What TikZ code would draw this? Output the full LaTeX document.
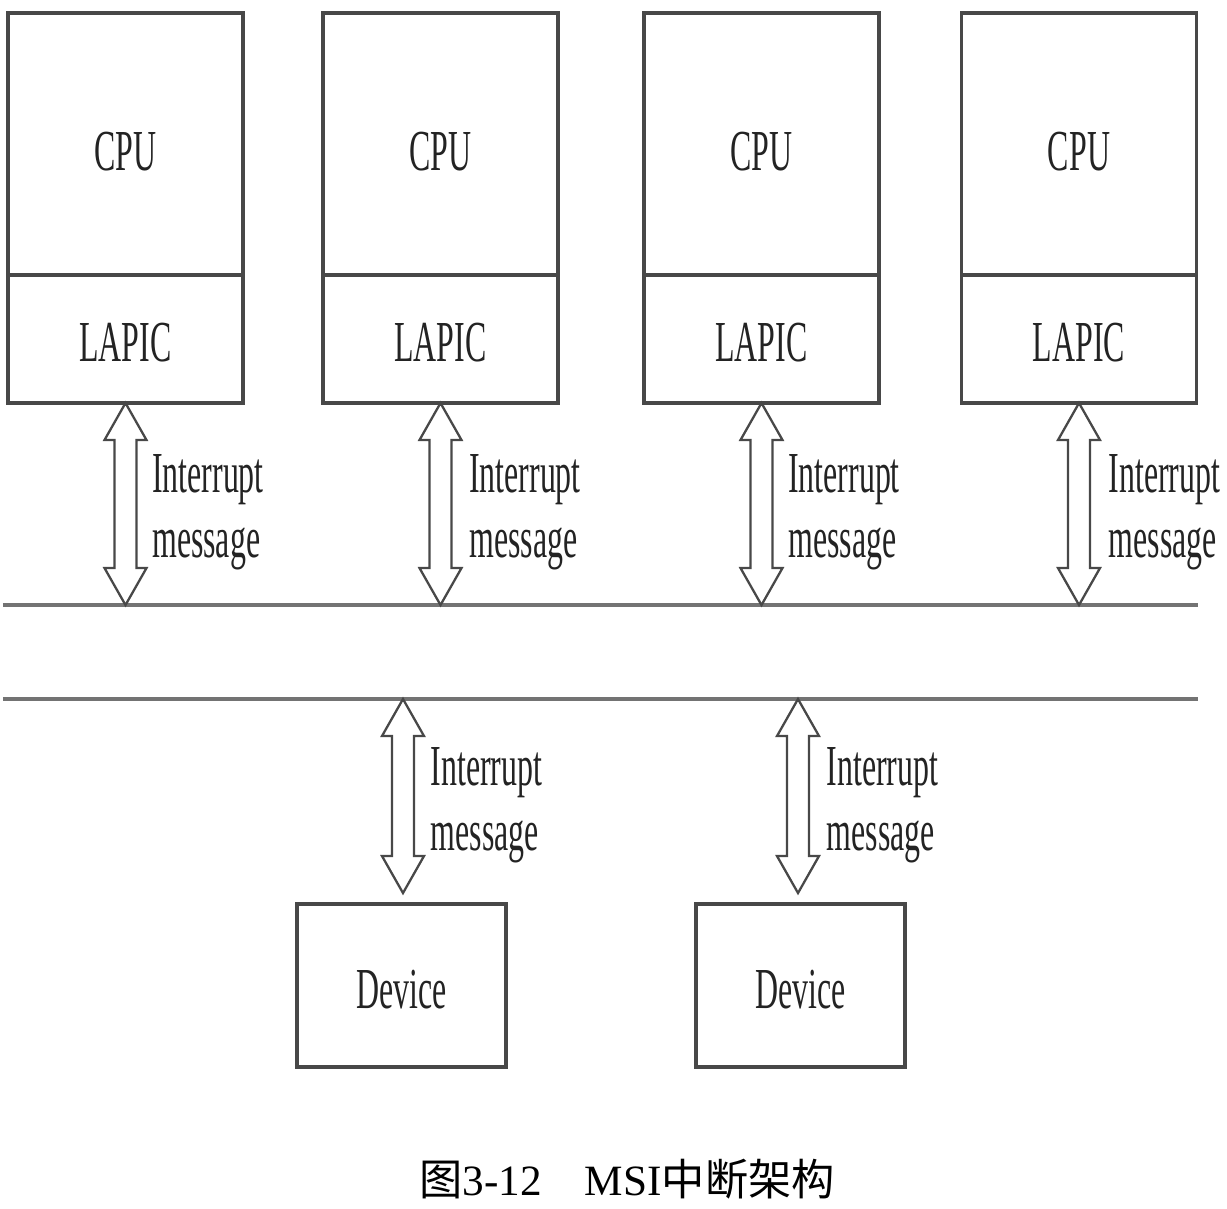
\documentclass[tikz,border=0pt]{standalone}
\usepackage{fontspec}
\setmainfont{Liberation Serif}
\newfontfamily\narrowrm{Liberation Serif}[FakeStretch=0.55]
\newfontfamily\cjk{Noto Sans CJK SC}
\usetikzlibrary{positioning,calc}
\definecolor{linea}{RGB}{72,72,72}
\definecolor{bus}{RGB}{115,115,115}
\definecolor{tinta}{RGB}{35,35,35}
\newcommand{\msgarrow}[2]{%
  \draw[msgar] (#1) -- ++(-0.21,-0.37) -- ++(0.10,0)
    -- ($(#2)+(-0.11,0.37)$) -- ++(-0.10,0) -- (#2)
    -- ++(0.21,0.37) -- ++(-0.10,0) -- ($(#1)+(0.11,-0.37)$)
    -- ++(0.10,0) -- cycle;}
\tikzset{
  caja/.style={draw=linea, line width=0.9pt, outer sep=0pt, inner sep=0pt, text=tinta,
    font=\narrowrm\fontsize{16.5}{18.5}\selectfont, text depth=0pt},
  cpu/.style={caja, minimum width=2.35cm, minimum height=2.62cm, text height=0.52cm},
  lapic/.style={caja, minimum width=2.35cm, minimum height=1.28cm, text height=0.44cm},
  disp/.style={caja, minimum width=2.09cm, minimum height=1.63cm, text height=0.46cm},
  busl/.style={draw=bus, line width=1.3pt},
  msgar/.style={draw=linea, line width=0.65pt, fill=white, line join=miter},
  et/.style={anchor=west, align=left, inner sep=0pt, text=tinta,
    font=\narrowrm\fontsize{16.5}{18.5}\selectfont},
  leyenda/.style={anchor=base, inner sep=0pt, text=black, font=\fontsize{12.3}{15}\selectfont},
}
\begin{document}
\begin{tikzpicture}[node distance=0pt]
  \useasboundingbox (0,0) rectangle (12.27,-12.08);
  % processors
  \node[cpu] (cpu1) at (1.255,-1.44) {CPU};
  \node[lapic, below=of cpu1] (lapic1) {LAPIC};
  \node[cpu] (cpu2) at (4.405,-1.44) {CPU};
  \node[lapic, below=of cpu2] (lapic2) {LAPIC};
  \node[cpu] (cpu3) at (7.615,-1.44) {CPU};
  \node[lapic, below=of cpu3] (lapic3) {LAPIC};
  \node[cpu] (cpu4) at (10.79,-1.44) {CPU};
  \node[lapic, below=of cpu4] (lapic4) {LAPIC};
  % buses
  \coordinate (busA) at (0.03,-6.05);
  \coordinate (busB) at (11.98,-6.05);
  \coordinate (busC) at (0.03,-6.99);
  \coordinate (busD) at (11.98,-6.99);
  \draw[busl] (busA) -- (busB);
  \draw[busl] (busC) -- (busD);
  % devices
  \node[disp] (dev1) at (4.015,-9.855) {Device};
  \node[disp] (dev2) at (8.005,-9.855) {Device};
  \coordinate (in1) at ($(dev1.north)+(0.015,0.11)$);
  \coordinate (in2) at ($(dev2.north)+(-0.025,0.11)$);
  % interrupt messages
  \msgarrow{lapic1.south}{lapic1.south |- busA}
  \msgarrow{lapic2.south}{lapic2.south |- busA}
  \msgarrow{lapic3.south}{lapic3.south |- busA}
  \msgarrow{lapic4.south}{lapic4.south |- busA}
  \msgarrow{in1 |- busC}{in1}
  \msgarrow{in2 |- busC}{in2}
  \node[et] (msg1) at ($(lapic1.south)!0.5!(lapic1.south |- busA)+(0.26,-0.08)$) {Interrupt\\message};
  \node[et] (msg2) at ($(lapic2.south)!0.5!(lapic2.south |- busA)+(0.28,-0.08)$) {Interrupt\\message};
  \node[et] (msg3) at ($(lapic3.south)!0.5!(lapic3.south |- busA)+(0.26,-0.08)$) {Interrupt\\message};
  \node[et] (msg4) at ($(lapic4.south)!0.5!(lapic4.south |- busA)+(0.29,-0.08)$) {Interrupt\\message};
  \node[et] (msg5) at ($(in1)!0.5!(in1 |- busC)+(0.27,-0.09)$) {Interrupt\\message};
  \node[et] (msg6) at ($(in2)!0.5!(in2 |- busC)+(0.28,-0.09)$) {Interrupt\\message};
  % caption
  \node[leyenda] (titulo) at (6.27,-11.95) {{\cjk 图}3-12\quad MSI{\cjk 中断架构}};
\end{tikzpicture}
\end{document}
